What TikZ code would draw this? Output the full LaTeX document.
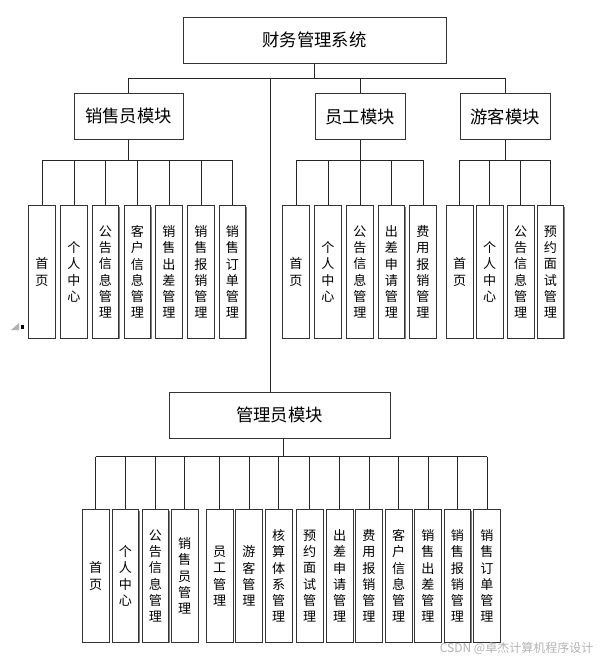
\documentclass[tikz,border=0pt]{standalone}
\usepackage{fontspec}
\setmainfont{Noto Sans CJK SC}
\usetikzlibrary{shadows}

\tikzset{
  box/.style={draw=black!80, fill=white, line width=0.6pt, inner sep=0pt,
    drop shadow={shadow xshift=0.7pt, shadow yshift=-0.7pt, fill=black!50, opacity=1}},
  head/.style={box, minimum height=34.5pt, font=\fontsize{13}{15}\selectfont},
  leaf/.style={box, minimum width=19.9pt, minimum height=99.4pt, align=center,
    font=\fontsize{9.8}{12.2}\selectfont},
  link/.style={draw=black!85, line width=0.7pt}
}

\begin{document}
\begin{tikzpicture}[x=0.75pt, y=-0.75pt]
  \useasboundingbox (0,0) rectangle (603,661);
  % modules
  \node[head, minimum width=197.25pt] (Sys) at (314.5,40) {财务管理系统};
  \node[head, minimum width=81.75pt] (Sales) at (128.5,116) {销售员模块};
  \node[head, minimum width=67.5pt] (Staff) at (360,116.5) {员工模块};
  \node[head, minimum width=67.5pt] (Visitor) at (505,116.5) {游客模块};
  \node[head, minimum width=165.75pt] (Admin) at (279.5,415) {管理员模块};
  % sales leaves
  \node[leaf] (s1) at (42,272) {首\\页};
  \node[leaf] (s2) at (74,272) {个\\人\\中\\心};
  \node[leaf] (s3) at (105.5,272) {公\\告\\信\\息\\管\\理};
  \node[leaf] (s4) at (137.5,272) {客\\户\\信\\息\\管\\理};
  \node[leaf] (s5) at (169,272) {销\\售\\出\\差\\管\\理};
  \node[leaf] (s6) at (201,272) {销\\售\\报\\销\\管\\理};
  \node[leaf] (s7) at (232.5,272) {销\\售\\订\\单\\管\\理};
  % staff leaves
  \node[leaf] (e1) at (296,272) {首\\页};
  \node[leaf] (e2) at (328,272) {个\\人\\中\\心};
  \node[leaf] (e3) at (360,272) {公\\告\\信\\息\\管\\理};
  \node[leaf] (e4) at (391.5,272) {出\\差\\申\\请\\管\\理};
  \node[leaf] (e5) at (423,272) {费\\用\\报\\销\\管\\理};
  % visitor leaves
  \node[leaf] (v1) at (459.7,272) {首\\页};
  \node[leaf] (v2) at (489.7,272) {个\\人\\中\\心};
  \node[leaf] (v3) at (520.7,272) {公\\告\\信\\息\\管\\理};
  \node[leaf] (v4) at (550.3,272) {预\\约\\面\\试\\管\\理};
  % admin leaves
  \node[leaf] (a1) at (95.7,576) {首\\页};
  \node[leaf] (a2) at (125.3,576) {个\\人\\中\\心};
  \node[leaf] (a3) at (155.3,576) {公\\告\\信\\息\\管\\理};
  \node[leaf] (a4) at (184.7,576) {销\\售\\员\\管\\理};
  \node[leaf] (a5) at (219.7,576) {员\\工\\管\\理};
  \node[leaf] (a6) at (249,576) {游\\客\\管\\理};
  \node[leaf] (a7) at (278.7,576) {核\\算\\体\\系\\管\\理};
  \node[leaf] (a8) at (309.7,576) {预\\约\\面\\试\\管\\理};
  \node[leaf] (a9) at (339.7,576) {出\\差\\申\\请\\管\\理};
  \node[leaf] (a10) at (369,576) {费\\用\\报\\销\\管\\理};
  \node[leaf] (a11) at (398.7,576) {客\\户\\信\\息\\管\\理};
  \node[leaf] (a12) at (428,576) {销\\售\\出\\差\\管\\理};
  \node[leaf] (a13) at (457.3,576) {销\\售\\报\\销\\管\\理};
  \node[leaf] (a14) at (487,576) {销\\售\\订\\单\\管\\理};
  % buses
  \coordinate (busTop) at (0,78);
  \coordinate (leafBus) at (0,160);
  \coordinate (adminIn) at (270,78);
  \coordinate (adminOut) at (283,456.7);
  \draw[link] (Sys.south) -- (Sys.south |- busTop);
  \draw[link] (Sales.north |- busTop) -- (Visitor.north |- busTop);
  \foreach \m in {Sales,Staff,Visitor}
    \draw[link] (\m.north |- busTop) -- (\m.north);
  \draw[link] (adminIn) -- (adminIn |- Admin.north);
  % module to leaves
  \draw[link] (Sales.south) -- (Sales.south |- leafBus);
  \draw[link] (s1.north |- leafBus) -- (s7.north |- leafBus);
  \foreach \i in {1,...,7}
    \draw[link] (s\i.north |- leafBus) -- (s\i.north);
  \draw[link] (Staff.south) -- (Staff.south |- leafBus);
  \draw[link] (e1.north |- leafBus) -- (e5.north |- leafBus);
  \foreach \i in {1,...,5}
    \draw[link] (e\i.north |- leafBus) -- (e\i.north);
  \draw[link] (Visitor.south) -- (Visitor.south |- leafBus);
  \draw[link] (v1.north |- leafBus) -- (v4.north |- leafBus);
  \foreach \i in {1,...,4}
    \draw[link] (v\i.north |- leafBus) -- (v\i.north);
  \draw[link] (adminOut |- Admin.south) -- (adminOut);
  \draw[link] (a1.north |- adminOut) -- (a14.north |- adminOut);
  \foreach \i in {1,...,14}
    \draw[link] (a\i.north |- adminOut) -- (a\i.north);
  % marks
  \fill[black!30] (11,330) -- (19,330) -- (19,323) -- cycle;
  \fill (20.5,325) rectangle (24,329);
  \node[font=\fontsize{9}{10}\selectfont, text=black!30, anchor=east] (mark) at (598,648) {CSDN @卓杰计算机程序设计};
\end{tikzpicture}
\end{document}
